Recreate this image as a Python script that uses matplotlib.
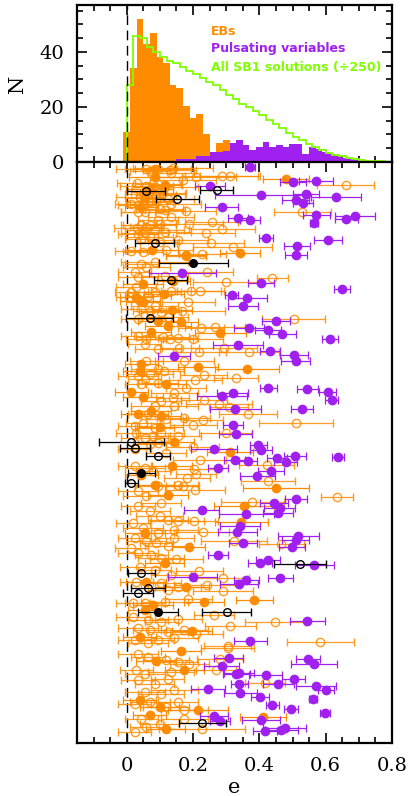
import numpy as np
import matplotlib
matplotlib.use("Agg")
import matplotlib.pyplot as plt
from matplotlib.ticker import MultipleLocator

ORANGE = "#ff8c00"
PURPLE = "#a020f0"
GREEN = "#7fff00"

# ---------------- histogram data (N per bin) ----------------
eb_edges = np.round(np.arange(-0.01, 0.44, 0.02), 3)
eb_counts = [11, 34, 52, 43, 47, 38, 36, 28, 27, 20.5, 16, 17.3, 10, 3, 7, 8,
             3, 2, 2, 1, 1, 1]
puls_edges = np.round(np.arange(0.15, 0.76, 0.02), 3)
puls_counts = [1, 1, 1, 2, 2, 3.5, 3.5, 4, 7, 8, 6, 4.5, 5.5, 7.3, 5.5, 6, 5.5,
               6.5, 6.5, 3, 5.3, 4.7, 3.7, 3, 2, 1.4, 1, 0.7, 0.4, 0.3]
sb1_edges = np.round(np.arange(0.0, 0.801, 0.02), 3)
sb1_counts = [28, 45.7, 44.9, 41.6, 39.8, 38, 36.8, 35.8, 34.4, 33.2, 32, 30.5,
              29.2, 27.8, 26.2, 24.4, 23, 21.2, 19.8, 18.4, 16.9, 15.2, 13.7,
              12.2, 10.7, 9.2, 8.0, 6.6, 5.3, 4.2, 3.4, 2.6, 2.0, 1.6, 1.1, 0.7,
              0.5, 0.3, 0.2, 0.1]

# ---------------- individual orbits (e, sigma_e, rank) ----------------
eb_open_e = [
 .059,.069,.094,.129,.139,.134,.170,.209,.287,.311,.660,.032,.059,.094,.116,.064,.086,.109,.039,.089,
 .124,.014,.034,.049,.069,.089,.134,.099,.116,.034,.054,.179,.530,.134,.094,.189,.257,.099,.069,.044,
 .032,.059,.084,.034,.054,.114,.238,.287,.044,.069,.099,.154,.253,.014,.049,.119,.228,.319,.179,
 .084,.059,.044,.241,.439,.299,.194,.222,.134,.084,.014,.029,.064,.186,.044,.069,.084,.104,.167,.504,
 .266,.224,.034,.059,.109,.129,.154,.199,.054,.094,.159,.294,.219,.369,.024,.034,.114,.034,.009,.124,
 .329,.207,.232,.112,.094,.059,.174,.366,.511,.229,.201,.172,.233,.279,.307,.154,.299,.179,.144,.139,
 .104,.084,.064,.024,.029,.054,.079,.119,.199,.024,.034,.054,.069,.044,.094,.144,.119,.049,.084,.104,
 .069,.094,
 .220,.204,.210,.422,.426,.634,.379,.206,.181,.154,.169,.094,.229,.324,.466,.024,.054,.079,.034,.059,
 .104,.034,.069,.099,.124,.154,.204,.019,.049,.094,.144,.024,.059,.089,.124,.144,.014,
 .289,.219,.242,.291,.150,.186,.262,.156,.447,.312,.584,.209,.124,.094,.144,.304,.034,.074,.104,.039,
 .084,.134,.029,.104,.154,.019,.054,.114,.019,.064,.104,.034,.069,.174,.024,.064,.124,
 .304,.282,.269,.417,.227,.024,.144,.154,.174,.034,.064,.119,.154,.189,.029,.054,.134,.034,.084,.124,
 .054,.104,.024,.069,.119,.044,.099,.059,.174]
eb_open_err = [
 .09,.06,.10,.08,.12,.07,.10,.12,.11,.09,.085,.06,.08,.07,.10,.05,.09,.07,.07,.06,
 .08,.05,.06,.04,.07,.05,.09,.07,.06,.05,.07,.09,.085,.07,.06,.10,.08,.05,.08,.06,
 .07,.05,.09,.06,.07,.08,.09,.10,.05,.07,.06,.09,.10,.05,.06,.08,.07,.12,.06,
 .10,.07,.05,.08,.046,.10,.09,.07,.06,.08,.05,.06,.07,.08,.06,.05,.07,.06,.13,.095,
 .09,.07,.05,.06,.08,.07,.06,.09,.05,.07,.06,.10,.08,.09,.05,.06,.07,.05,.04,.06,
 .067,.08,.07,.06,.08,.05,.09,.088,.112,.06,.07,.08,.07,.10,.06,.07,.08,.06,.07,.05,
 .06,.07,.06,.05,.06,.07,.05,.06,.08,.05,.06,.05,.07,.05,.06,.07,.06,.05,.06,.07,
 .05,.06,
 .08,.07,.06,.082,.082,.048,.095,.09,.07,.06,.05,.07,.08,.10,.068,.05,.06,.05,.06,.07,
 .06,.05,.06,.07,.06,.08,.07,.05,.06,.05,.07,.05,.06,.05,.07,.06,.05,
 .08,.07,.10,.09,.08,.07,.06,.07,.09,.077,.10,.08,.06,.05,.07,.07,.06,.05,.07,.06,
 .05,.06,.05,.06,.07,.05,.06,.07,.05,.06,.05,.06,.05,.07,.05,.06,.06,
 .08,.07,.06,.06,.13,.05,.07,.06,.07,.06,.05,.07,.06,.06,.05,.06,.07,.05,.06,.05,
 .06,.07,.05,.06,.07,.05,.06,.05,.07]
eb_open_rank = [
 574,572,574,573,575,570,563,566,567,567,558,560,557,559,556,551,549,550,546,548,
 544,539,538,539,541,542,539,534,533,531,531,532,531,526,523,519,521,519,518,518,
 515,516,513,509,510,511,510,514,504,506,501,503,500,492,491,493,489,496,487,
 481,476,479,471,465,461,452,452,452,451,451,456,447,441,434,432,437,431,432,424,
 416,415,407,404,406,404,405,404,399,394,395,395,391,391,471,466,467,424,446,426,
 365,363,368,372,374,382,382,329,320,323,318,325,343,339,336,307,310,355,350,345,
 342,337,329,317,310,305,307,290,296,294,367,364,369,359,360,337,324,320,315,310,
 299,300,
 283,274,269,278,262,246,241,253,265,258,257,257,211,202,199,277,275,272,252,247,
 240,237,232,227,223,222,222,220,215,210,213,205,202,200,197,205,195,
 165,172,158,152,184,144,128,124,121,117,101,109,111,103,105,97,190,188,185,176,
 173,168,161,160,156,140,140,141,126,123,121,115,113,113,103,100,153,
 95,84,73,60,14,11,53,41,33,89,86,83,81,79,73,69,71,63,59,64,
 51,49,39,41,36,24,19,16,24]

eb_fill_e = [.481,.086,.084,.069,.116,.054,.044,.076,.179,.342,.141,.049,.112,.029,.039,.049,
             .137,.094,.164,.124,.282,.072,.216,.363,.039,.044,.014,.049,.119,.074,.034,.104,
             .100,.144,.312,.136,.450,.124,.354,.346,.054,.187,.044,.084,.234,.385,.059,.114,
             .179,.196,.039,.079,.054,.174,.099,.069,.117,.214,.039,.089,.164,.411]
eb_fill_err = [.07,.08,.06,.07,.05,.06,.05,.08,.06,.06,.05,.06,.06,.05,.06,.05,
               .06,.06,.05,.07,.077,.06,.06,.097,.05,.05,.05,.06,.06,.06,.05,.06,
               .07,.06,.07,.06,.10,.06,.09,.08,.06,.05,.05,.06,.06,.056,.06,.06,
               .07,.06,.05,.06,.05,.06,.06,.05,.06,.09,.05,.06,.06,.07]
eb_fill_rank = [564,566,574,554,558,545,536,493,488,490,462,459,449,446,442,441,
                433,422,421,417,410,411,376,374,372,379,351,346,359,332,329,327,
                316,301,291,277,255,248,237,221,210,196,268,258,141,143,161,180,
                156,112,106,138,133,73,36,28,14,33,43,82,92,26]

puls_e = [.372,.501,.571,.250,.405,.540,.630,.509,.531,.287,.572,.689,.335,.371,.662,.564,.420,.608,.513,.511,
          .168,.405,.649,.317,.364,.351,.451,.368,.426,.469,.613,.336,.432,.505,.142,
          .509,.427,.544,.606,.618,.319,.287,.528,.328,.321,.329,.397,.264,.405,
          .636,.507,.454,.325,.366,.479,.275,.435,.394,.510,.444,.461,.226,.457,.361,.342,.334,.517,.509,.351,.499,
          .275,.427,.402,.566,.199,.463,.361,.339,.544,.373,
          .546,.564,.307,.286,.339,.331,.419,.504,.457,.340,.570,.601,.245,.342,.402,.562,.439,.496,.599,.264,
          .281,.405,.476,.466,.417]
puls_err = [.015,.04,.05,.045,.14,.04,.075,.04,.03,.05,.04,.06,.03,.03,.035,.012,.02,.042,.04,.033,
            .10,.04,.023,.02,.058,.045,.042,.045,.04,.04,.025,.075,.03,.043,.048,
            .045,.026,.032,.025,.02,.046,.075,.033,.078,.03,.05,.025,.07,.032,
            .018,.033,.03,.032,.028,.035,.03,.038,.052,.034,.042,.047,.053,.045,.082,.06,.06,.062,.04,.043,.04,
            .031,.036,.036,.06,.074,.038,.037,.057,.053,.05,
            .037,.07,.044,.053,.045,.04,.05,.035,.047,.026,.06,.023,.05,.05,.027,.013,.02,.022,.015,.042,
            .03,.056,.064,.05,.037]
puls_rank = [576,561,562,557,548,549,546,543,540,536,528,527,525,523,524,520,505,503,497,488,
             470,460,454,448,445,437,422,415,413,409,404,398,392,388,387,
             382,355,354,351,343,350,347,334,334,318,309,298,294,293,
             286,287,285,283,282,281,275,272,267,244,240,235,233,230,229,217,211,207,203,200,196,
             188,183,180,178,166,165,163,159,122,102,
             84,79,85,77,70,69,68,64,59,59,57,53,54,50,46,44,38,34,30,27,
             22,23,15,13,12]

other_open_e = [.271,.152,.084,.059,.132,.069,.014,.024,.094,.014,.522,.044,.064,.301,.034,.228]
other_open_err = [.05,.065,.058,.057,.05,.07,.097,.045,.035,.02,.079,.04,.05,.075,.045,.07]
other_open_rank = [553,544,500,552,463,425,301,295,287,260,179,170,155,131,150,20]
other_fill_e = [.201,.044,.094]
other_fill_err = [.105,.04,.06]
other_fill_rank = [480,270,131]

# ---------------- figure ----------------
W, H = 409, 796
fig = plt.figure(figsize=(W / 100, H / 100), dpi=100)
L, R = 77 / W, 392 / W
axh = fig.add_axes([L, (H - 162) / H, R - L, 157 / H])
axs = fig.add_axes([L, (H - 743) / H, R - L, 581 / H])

serif = "DejaVu Serif"

# --- histogram panel ---
axh.stairs(eb_counts, eb_edges, fill=True, color=ORANGE, lw=0, zorder=2)
axh.stairs(puls_counts, puls_edges, fill=True, color=PURPLE, lw=0, zorder=3)
axh.stairs(sb1_counts, sb1_edges, fill=False, color=GREEN, lw=1.3, zorder=4)
axh.axvline(0, color="black", lw=1.0, dashes=(7, 4), zorder=5)
axh.set_xlim(-0.15, 0.8)
axh.set_ylim(0, 57)
axh.xaxis.set_major_locator(MultipleLocator(0.2))
axh.xaxis.set_minor_locator(MultipleLocator(0.05))
axh.yaxis.set_major_locator(MultipleLocator(20))
axh.yaxis.set_minor_locator(MultipleLocator(5))
axh.tick_params(axis="both", which="both", direction="in", top=True, right=True,
                width=1.2, labelbottom=False)
axh.tick_params(which="major", length=7)
axh.tick_params(which="minor", length=4)
axh.tick_params(axis="y", labelsize=14, pad=9)
for lab in axh.get_yticklabels():
    lab.set_fontfamily(serif)
axh.set_ylabel("N", fontsize=15, family=serif, labelpad=9)

tx = 0.425
axh.text(tx, 0.834, "EBs", transform=axh.transAxes, color=ORANGE,
         fontsize=9, fontweight="bold", va="center", ha="left")
axh.text(tx, 0.726, "Pulsating variables", transform=axh.transAxes, color=PURPLE,
         fontsize=9, fontweight="bold", va="center", ha="left")
axh.text(tx, 0.605, "All SB1 solutions (\u00f7250)", transform=axh.transAxes,
         color=GREEN, fontsize=9, fontweight="bold", va="center", ha="left")

# --- scatter panel ---
axs.axvline(0, color="black", lw=1.0, dashes=(7, 4), zorder=1)
common = dict(fmt="o", capsize=2.8, elinewidth=0.9, capthick=0.9)
axs.errorbar(eb_open_e, eb_open_rank, xerr=eb_open_err, ms=6, mfc="none",
             mec=ORANGE, mew=1.0, ecolor=ORANGE, alpha=0.85, zorder=2, **common)
axs.errorbar(eb_fill_e, eb_fill_rank, xerr=eb_fill_err, ms=6, mfc=ORANGE,
             mec=ORANGE, ecolor=ORANGE, zorder=3, **common)
axs.errorbar(puls_e, puls_rank, xerr=puls_err, ms=6, mfc=PURPLE,
             mec=PURPLE, ecolor=PURPLE, zorder=4, **common)
axs.errorbar(other_open_e, other_open_rank, xerr=other_open_err, ms=5.5, mfc="none",
             mec="black", mew=1.0, ecolor="black", zorder=5, **common)
axs.errorbar(other_fill_e, other_fill_rank, xerr=other_fill_err, ms=5.5, mfc="black",
             mec="black", ecolor="black", zorder=5, **common)

axs.set_xlim(-0.15, 0.8)
axs.set_ylim(0, 581)
axs.xaxis.set_major_locator(MultipleLocator(0.2))
axs.xaxis.set_minor_locator(MultipleLocator(0.05))
axs.set_yticks([])
axs.tick_params(axis="x", which="both", direction="in", top=True, width=1.2)
axs.tick_params(axis="x", which="major", length=7, labelsize=14, pad=10)
axs.tick_params(axis="x", which="minor", length=4)
axs.set_xticks([0, 0.2, 0.4, 0.6, 0.8])
axs.set_xticklabels(["0", "0.2", "0.4", "0.6", "0.8"], family=serif)
axs.set_xlabel("e", fontsize=15, family=serif, labelpad=2)

for ax in (axh, axs):
    for sp in ax.spines.values():
        sp.set_linewidth(1.6)

fig.savefig("out.png", dpi=100)
